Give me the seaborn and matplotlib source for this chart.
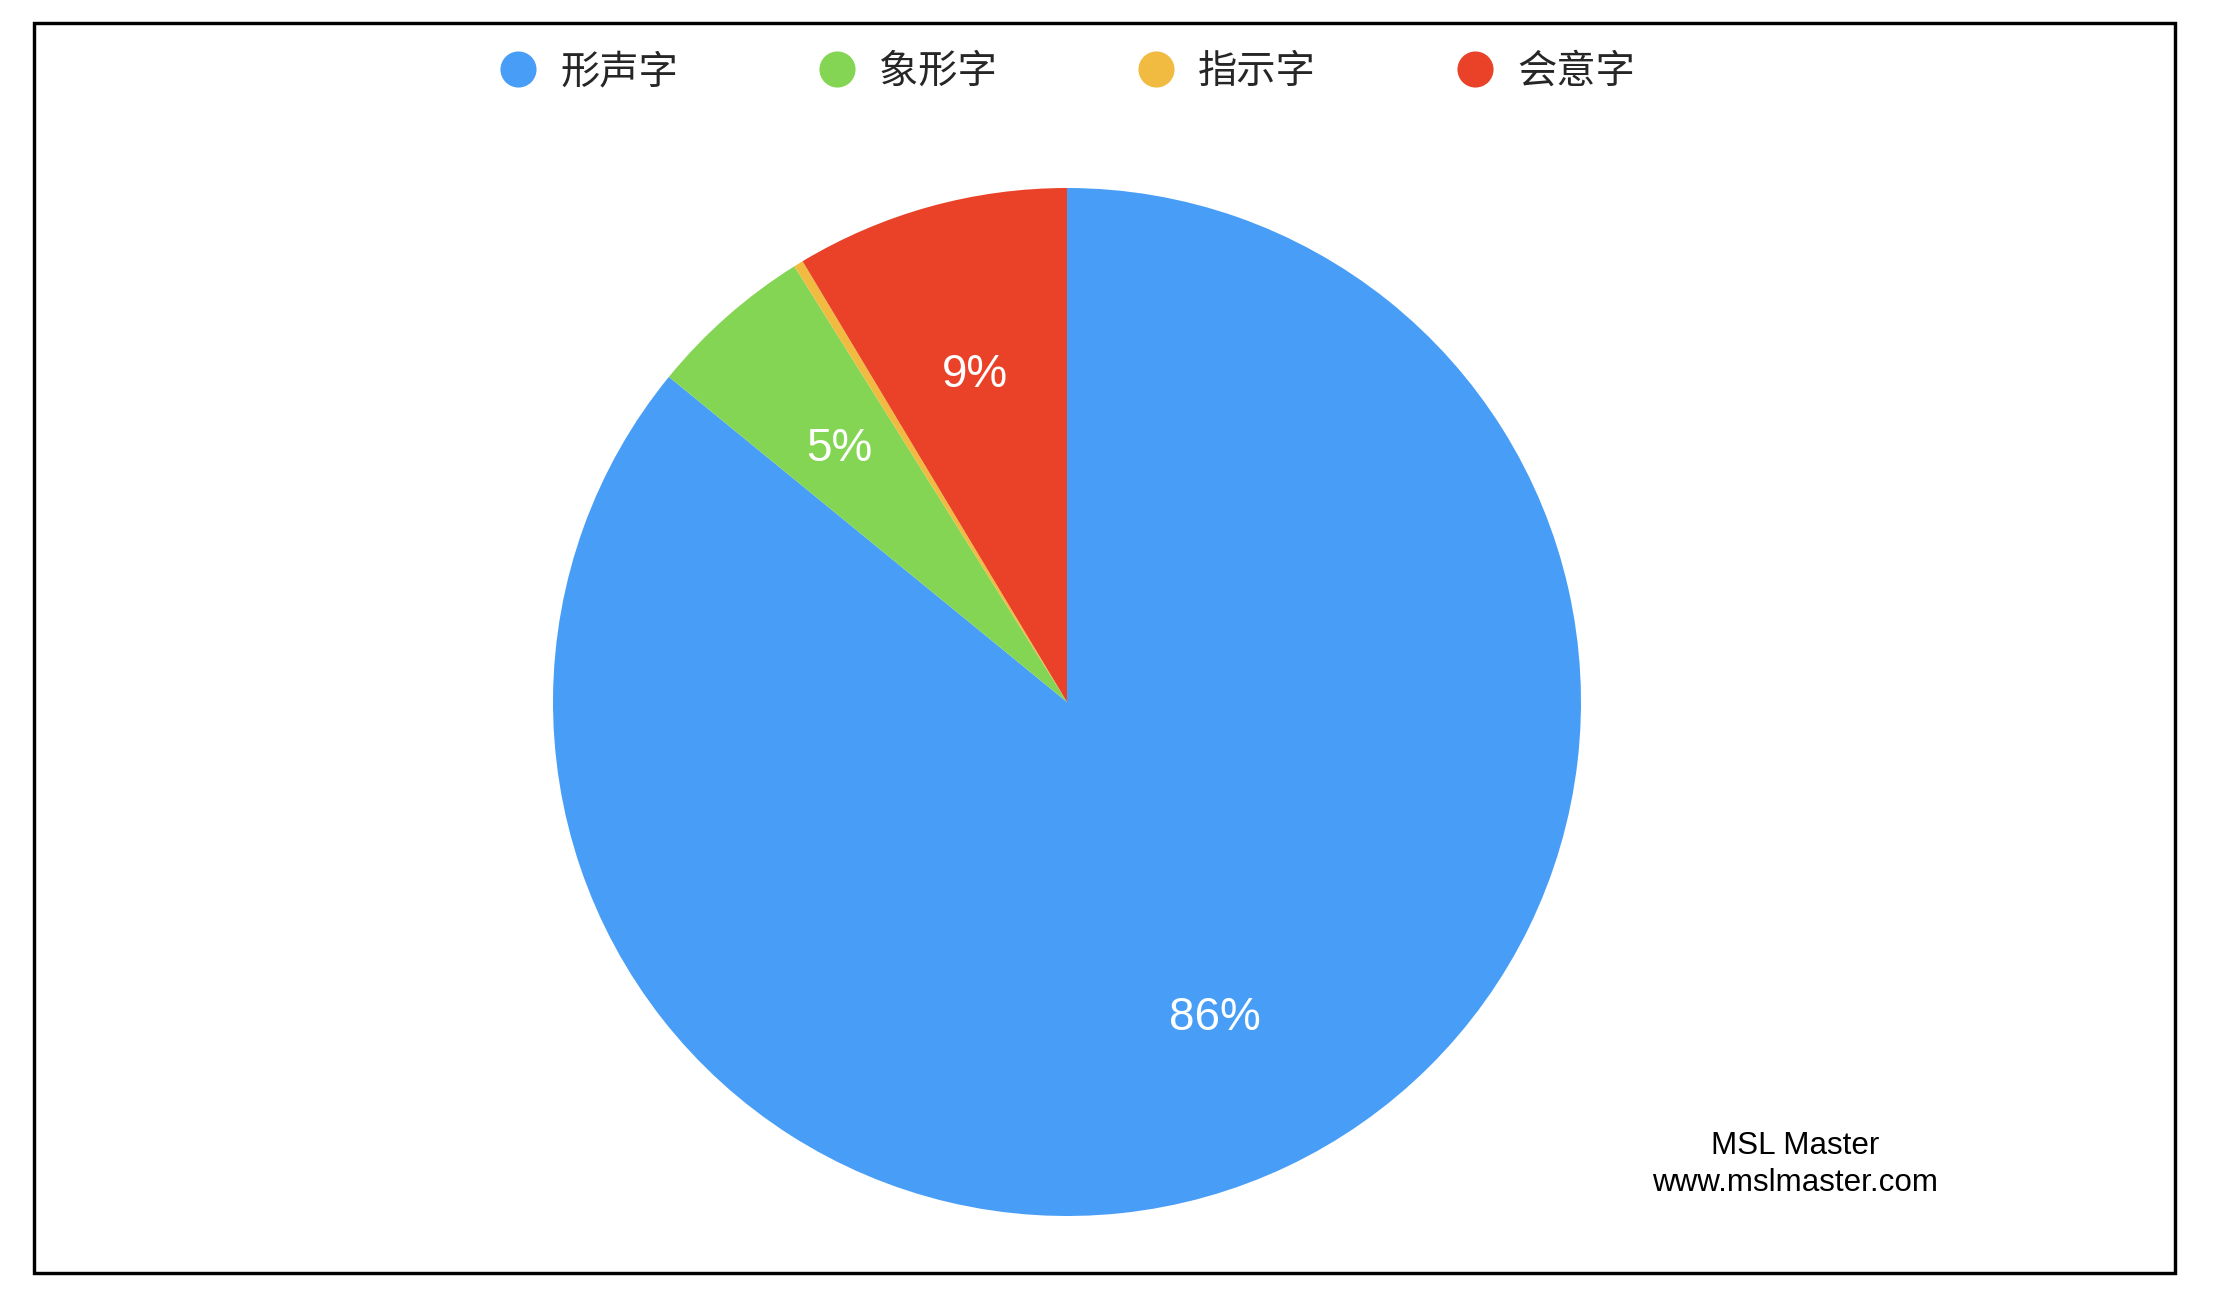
import matplotlib
matplotlib.use("Agg")
import matplotlib.pyplot as plt
from matplotlib.lines import Line2D
from matplotlib.patches import Rectangle
from matplotlib.transforms import ScaledTranslation
import seaborn as sns

# ---- data ----
categories = ["形声字", "象形字", "指示字", "会意字"]
shares = [85.9, 5.2, 0.3, 8.6]
colors_hex = ["#489EF7", "#84D554", "#F0BB40", "#E94228"]
watermark_lines = ["MSL Master", "www.mslmaster.com"]

sns.set_theme(style="white")
plt.rcParams["font.family"] = ["Noto Sans CJK SC", "DejaVu Sans"]

W, H = 2224, 1299
fig = plt.figure(figsize=(W / 100, H / 100), dpi=100)
fig.patch.set_facecolor("white")

palette = sns.color_palette(colors_hex)

# pie axes: centre (1067, 702) px, radius 514 px
cx, cy, r = 1067, 702, 514
ax = fig.add_axes([(cx - r) / W, (H - cy - r) / H, 2 * r / W, 2 * r / H])


def fmt(p):
    return f"{p:.0f}%" if p >= 1 else ""


wedges, texts, autotexts = ax.pie(
    shares,
    colors=palette,
    startangle=90,
    counterclock=False,
    autopct=fmt,
    pctdistance=0.67,
    wedgeprops=dict(linewidth=0),
    textprops=dict(color="white", fontsize=33, family=["Liberation Sans", "DejaVu Sans"]),
)
shift = ScaledTranslation(0, -5 / 100, fig.dpi_scale_trans)
for t in autotexts:
    t.set_transform(t.get_transform() + shift)
ax.set_xlim(-1, 1)
ax.set_ylim(-1, 1)
ax.set_aspect("equal")
ax.axis("off")

# legend
handles = [
    Line2D([0], [0], marker="o", linestyle="none", markersize=26,
           markerfacecolor=c, markeredgewidth=0)
    for c in palette
]
fig.legend(
    handles, categories,
    loc="center", bbox_to_anchor=(1066.6 / W, 1 - 72 / H),
    ncol=4, frameon=False, fontsize=28.3,
    handlelength=1.0, handletextpad=0.57, columnspacing=3.55,
    borderpad=0, borderaxespad=0,
)

# outer border
x0, y0, x1, y1 = 33.7, 23, 2174.8, 1272.8
fig.patches.append(Rectangle((x0 / W, 1 - y1 / H), (x1 - x0) / W, (y1 - y0) / H,
                             transform=fig.transFigure, fill=False,
                             edgecolor="black", linewidth=2.45))

# watermark
fig.text(1795 / W, 1 - 1146 / H, watermark_lines[0], ha="center", va="center",
         fontsize=22.6, family=["Liberation Sans", "DejaVu Sans"], color="black")
fig.text(1795 / W, 1 - 1183 / H, watermark_lines[1], ha="center", va="center",
         fontsize=22.6, family=["Liberation Sans", "DejaVu Sans"], color="black")

fig.savefig("out.png", dpi=100, facecolor="white")
